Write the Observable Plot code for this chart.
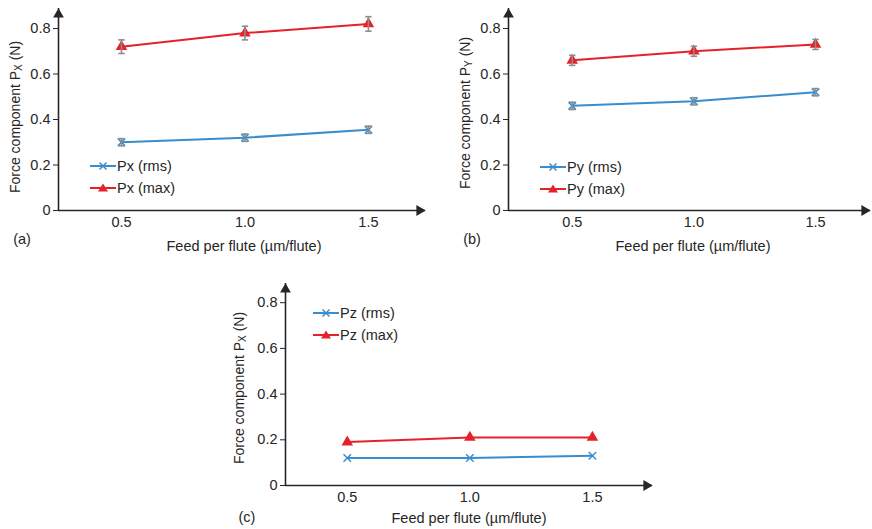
<!DOCTYPE html>
<html>
<head>
<meta charset="utf-8">
<script src="https://cdn.jsdelivr.net/npm/d3@7"></script>
<script src="https://cdn.jsdelivr.net/npm/@observablehq/plot@0.6"></script>
<style>
  body { margin: 0; background: #fff; font-family: "Liberation Sans", Arial, sans-serif; }
  #root { position: relative; width: 872px; height: 529px; overflow: hidden; background: #fff; }
  .panel { position: absolute; }
  .panel svg { overflow: visible; }
  .panel svg text { font-size: 14.5px; fill: #262626; }
  .txt { position: absolute; font-size: 14.5px; color: #262626; white-space: nowrap; line-height: 1; }
  .ylab { position: absolute; font-size: 14px; color: #262626; white-space: nowrap; line-height: 1;
          transform: translate(-50%, -50%) rotate(-90deg); }
  .ylab sub { font-size: 10px; vertical-align: -2px; }
  .xlab { transform: translate(-50%, -50%); }
  .leg { position: absolute; font-size: 14.5px; color: #262626; white-space: nowrap; display: flex; align-items: center; height: 16px; }
  .leg svg { margin-right: 1px; }
</style>
</head>
<body>
<div id="root"></div>
<script>
// ---------------- data ----------------
const feed = [0.5, 1.0, 1.5];
const xTicks = [0.5, 1.0, 1.5];
const yTicks = [0, 0.2, 0.4, 0.6, 0.8];

const pxRms = [0.30, 0.32, 0.355];
const pxRmsErr = [0.016, 0.016, 0.016];
const pxMax = [0.72, 0.78, 0.82];
const pxMaxErr = [0.03, 0.03, 0.032];

const pyRms = [0.46, 0.48, 0.52];
const pyRmsErr = [0.016, 0.016, 0.016];
const pyMax = [0.66, 0.70, 0.73];
const pyMaxErr = [0.022, 0.022, 0.022];

const pzRms = [0.12, 0.12, 0.13];
const pzMax = [0.19, 0.21, 0.21];

const seriesNames = {
  a: ["Px (rms)", "Px (max)"],
  b: ["Py (rms)", "Py (max)"],
  c: ["Pz (rms)", "Pz (max)"]
};
const panelTags = ["(a)", "(b)", "(c)"];
const xTitle = "Feed per flute (µm/flute)";

// ---------------- style ----------------
const BLUE = "#3a8dcc";
const RED = "#e62129";
const GRAY = "#8c8c8c";
const AXIS = "#262626";

const capSymbol = {
  draw(ctx, size) {
    const r = Math.sqrt(size / Math.PI);
    ctx.moveTo(-r, 0); ctx.lineTo(r, 0);
  }
};

const root = document.getElementById("root");

function rowsOf(vals, errs) {
  return feed.map((f, i) => ({feed: f, value: vals[i], err: errs ? errs[i] : 0}));
}

function makePanel(cfg) {
  const rms = rowsOf(cfg.rms, cfg.rmsErr);
  const mx = rowsOf(cfg.max, cfg.maxErr);
  const [x0, x1] = cfg.xDomain;
  const [y0, y1] = cfg.yDomain;
  const marks = [
    Plot.ruleY([y0], {stroke: AXIS, strokeWidth: 1.6}),
    Plot.ruleX([x0], {stroke: AXIS, strokeWidth: 1.6}),
    Plot.dot([{x: x0, y: y1}], {x: "x", y: "y", symbol: "triangle", r: 4, fill: AXIS, dy: 6}),
    Plot.dot([{x: x1, y: y0}], {x: "x", y: "y", symbol: "triangle", r: 4, fill: AXIS, rotate: 90, dx: -6}),
    Plot.line(rms, {x: "feed", y: "value", stroke: BLUE, strokeWidth: 2}),
    Plot.line(mx, {x: "feed", y: "value", stroke: RED, strokeWidth: 2}),
    Plot.dot(rms, {x: "feed", y: "value", symbol: "times", r: 3.5, stroke: BLUE, strokeWidth: 1.5}),
    Plot.dot(mx, {x: "feed", y: "value", symbol: "triangle", r: 4.3, fill: RED})
  ];
  if (cfg.rmsErr || cfg.maxErr) {
    const errRows = [...(cfg.rmsErr ? rms : []), ...(cfg.maxErr ? mx : [])];
    marks.push(
      Plot.ruleX(errRows, {x: "feed", y1: d => d.value - d.err, y2: d => d.value + d.err, stroke: GRAY, strokeWidth: 1.6}),
      Plot.dot(errRows, {x: "feed", y: d => d.value - d.err, symbol: capSymbol, r: 3.2, stroke: GRAY, strokeWidth: 1.6}),
      Plot.dot(errRows, {x: "feed", y: d => d.value + d.err, symbol: capSymbol, r: 3.2, stroke: GRAY, strokeWidth: 1.6})
    );
  }
  const chart = Plot.plot({
    width: cfg.width, height: cfg.height,
    marginLeft: cfg.ml, marginRight: cfg.mr, marginTop: cfg.mt, marginBottom: cfg.mb,
    style: {fontSize: "14.5px", fontFamily: "'Liberation Sans', Arial, sans-serif", color: AXIS, background: "transparent", overflow: "visible"},
    x: {domain: cfg.xDomain, ticks: xTicks, tickFormat: d => d.toFixed(1), tickSize: 0, tickPadding: 6, label: null},
    y: {domain: cfg.yDomain, ticks: yTicks, tickFormat: d => d === 0 ? "0" : d.toFixed(1), tickSize: 5, tickPadding: 3, label: null},
    marks
  });
  const wrap = document.createElement("div");
  wrap.className = "panel";
  wrap.style.left = cfg.left + "px";
  wrap.style.top = cfg.top + "px";
  wrap.appendChild(chart);
  root.appendChild(wrap);

  // y title
  const yl = document.createElement("div");
  yl.className = "ylab";
  yl.style.left = cfg.yLab[0] + "px";
  yl.style.top = cfg.yLab[1] + "px";
  yl.innerHTML = "Force component P<sub>" + cfg.sub + "</sub> (N)";
  root.appendChild(yl);

  // x title
  const xl = document.createElement("div");
  xl.className = "txt xlab";
  xl.style.left = cfg.xLab[0] + "px";
  xl.style.top = cfg.xLab[1] + "px";
  xl.textContent = xTitle;
  root.appendChild(xl);

  // panel tag
  const tg = document.createElement("div");
  tg.className = "txt xlab";
  tg.style.left = cfg.tag[0] + "px";
  tg.style.top = cfg.tag[1] + "px";
  tg.textContent = cfg.tagText;
  root.appendChild(tg);

  // legend
  cfg.names.forEach((name, i) => {
    const it = document.createElement("div");
    it.className = "leg";
    it.style.left = cfg.leg[0] + "px";
    it.style.top = (cfg.leg[1] + i * 21.5 - 8) + "px";
    const col = i === 0 ? BLUE : RED;
    const marker = i === 0
      ? `<path d="M9.5,3.5L16.5,10.5M16.5,3.5L9.5,10.5" stroke="${col}" stroke-width="1.5"/>`
      : `<path d="M13,2.5L18,10.5L8,10.5Z" fill="${col}"/>`;
    it.innerHTML = `<svg width="26" height="14"><line x1="0" y1="7" x2="26" y2="7" stroke="${col}" stroke-width="2"/>${marker}</svg><span>${name}</span>`;
    root.appendChild(it);
  });
}

makePanel({
  left: 0, top: 0, width: 440, height: 260, ml: 58, mr: 15, mt: 8, mb: 50,
  xDomain: [0.245, 1.731], yDomain: [0, 0.888],
  rms: pxRms, rmsErr: pxRmsErr, max: pxMax, maxErr: pxMaxErr,
  sub: "X", yLab: [16, 117], xLab: [244, 246], tag: [22, 239], tagText: panelTags[0],
  names: seriesNames.a, leg: [90, 166]
});

makePanel({
  left: 440, top: 0, width: 432, height: 260, ml: 68, mr: 2, mt: 8, mb: 50,
  xDomain: [0.238, 1.726], yDomain: [0, 0.888],
  rms: pyRms, rmsErr: pyRmsErr, max: pyMax, maxErr: pyMaxErr,
  sub: "Y", yLab: [466, 113], xLab: [693, 246], tag: [472, 239], tagText: panelTags[1],
  names: seriesNames.b, leg: [540, 167]
});

makePanel({
  left: 220, top: 270, width: 450, height: 259, ml: 65, mr: 18, mt: 13, mb: 44,
  xDomain: [0.248, 1.745], yDomain: [0, 0.884],
  rms: pzRms, rmsErr: null, max: pzMax, maxErr: null,
  sub: "X", yLab: [240, 388], xLab: [469, 518], tag: [247, 517], tagText: panelTags[2],
  names: seriesNames.c, leg: [313, 313]
});
</script>
</body>
</html>
